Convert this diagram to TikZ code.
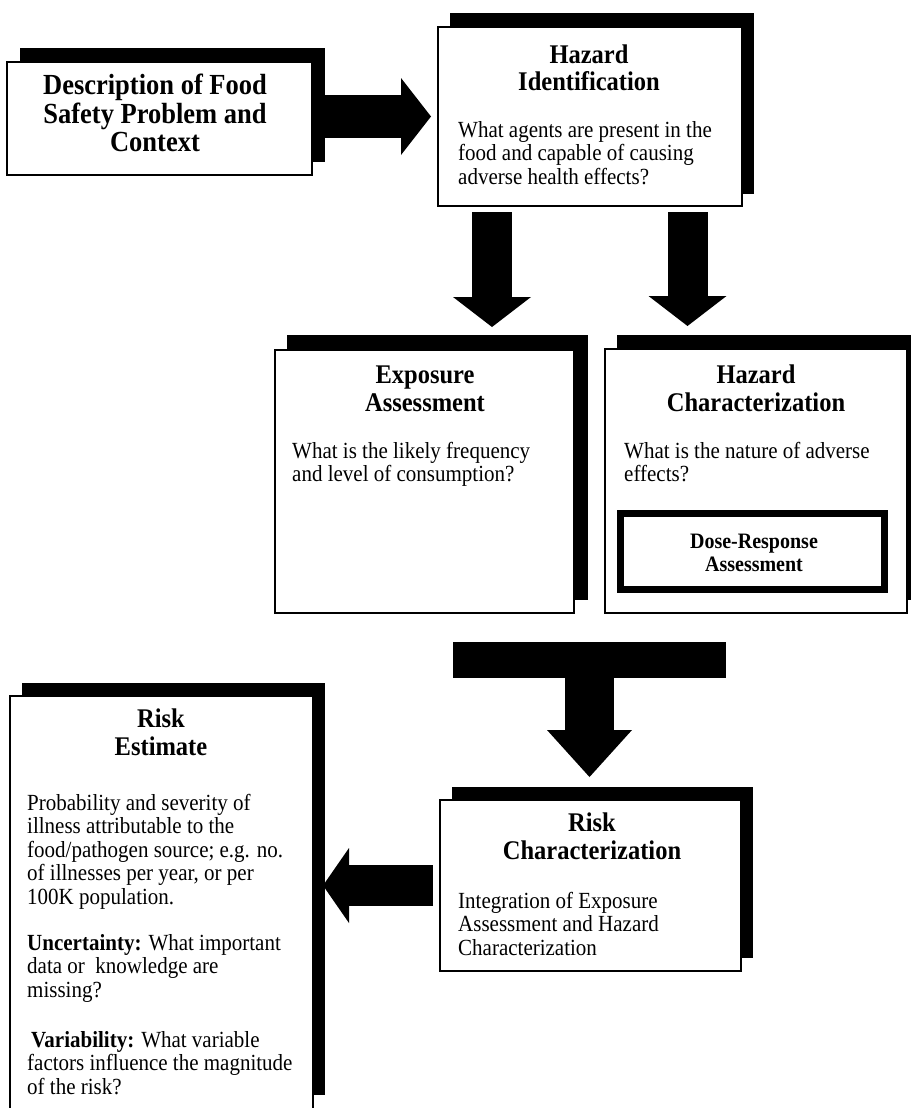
\documentclass[tikz,border=0pt]{standalone}
\usepackage{graphicx}
\usepackage{fontspec}
\setmainfont{Liberation Serif}
\usetikzlibrary{arrows.meta}
\newcommand\vtxt[2]{\scalebox{1}[1.1]{\begin{tabular}{@{}#1@{}}#2\end{tabular}}}
\begin{document}
\begin{tikzpicture}[x=1pt,y=-1pt,
  shadowrect/.style={fill=black, draw=none, inner sep=0pt, outer sep=0pt, anchor=north west},
  whiterect/.style={fill=white, draw=black, line width=1.3pt, inner sep=0pt, outer sep=0pt, anchor=north west},
  title/.style={inner sep=0pt, anchor=north, font=\bfseries\fontsize{24.5}{25}\selectfont},
  body/.style={inner sep=0pt, anchor=north west, font=\fontsize{21}{21.36}\selectfont},
  blockarrow/.style n args={3}{line width=#1, -{Triangle[length=#2, width=#3, line width=0pt]}}
]
\useasboundingbox (0,0) rectangle (910,1108);

% Description box
\node[shadowrect, minimum width=305pt, minimum height=114pt] (descsh) at (20,48) {};
\node[whiterect, minimum width=305pt, minimum height=113pt] (desc) at (7,62) {};
\node[title, font=\bfseries\fontsize{26.5}{26}\selectfont] (desctxt) at (155,73.5) {\vtxt{c}{Description of Food\\Safety Problem and\\Context}};

% Hazard Identification
\node[shadowrect, minimum width=304pt, minimum height=181pt] (hazidsh) at (450,13) {};
\node[whiterect, minimum width=304pt, minimum height=179pt] (hazid) at (438,27) {};
\node[title] (hazidtitle) at (589,44) {\vtxt{c}{Hazard\\Identification}};
\node[body] (hazidbody) at (458,120.5) {\vtxt{l}{What agents are present in the\\food and capable of causing\\adverse health effects?}};

% Exposure Assessment
\node[shadowrect, minimum width=301pt, minimum height=265pt] (exposh) at (287,335) {};
\node[whiterect, minimum width=299pt, minimum height=263pt] (expo) at (275,350) {};
\node[title] (expotitle) at (425,364.5) {\vtxt{c}{Exposure\\Assessment}};
\node[body] (expobody) at (292,441.5) {\vtxt{l}{What is the likely frequency\\and level of consumption?}};

% Hazard Characterization
\node[shadowrect, minimum width=295pt, minimum height=265pt] (hazcharsh) at (617,335) {};
\node[whiterect, minimum width=302pt, minimum height=264pt] (hazchar) at (605,349) {};
\node[title] (hazchartitle) at (756,364.5) {\vtxt{c}{Hazard\\Characterization}};
\node[body] (hazcharbody) at (624,441.5) {\vtxt{l}{What is the nature of adverse\\effects?}};
\node[draw=black, fill=white, line width=7pt, inner sep=0pt, minimum width=264pt, minimum height=76pt] (dose) at (752.5,551.5) {};
\node[inner sep=0pt, anchor=north, font=\bfseries\fontsize{20}{20.9}\selectfont] (dosetxt) at (754,532) {\vtxt{c}{Dose-Response\\Assessment}};

% Merge bar
\node[shadowrect, minimum width=273pt, minimum height=36pt] (merge) at (453,642) {};

% Risk Estimate
\node[shadowrect, minimum width=303pt, minimum height=412pt] (riskestsh) at (22,683) {};
\node[whiterect, minimum width=303pt, minimum height=430pt] (riskest) at (10,696) {};
\node[title] (riskesttitle) at (161,708.5) {\vtxt{c}{Risk\\Estimate}};
\node[body] (riskestbody1) at (27,793.5) {\vtxt{l}{Probability and severity of\\illness attributable to the\\food/pathogen source; e.g. no.\\of illnesses per year, or per\\100K population.}};
\node[body] (riskestbody2) at (27,933.5) {\vtxt{l}{\textbf{Uncertainty:} What important\\data or~ knowledge are\\missing?}};
\node[body] (riskestbody3) at (27,1030.5) {\vtxt{l}{\hspace{4pt}\textbf{Variability:} What variable\\factors influence the magnitude\\of the risk?}};

% Risk Characterization
\node[shadowrect, minimum width=301pt, minimum height=171pt] (riskcharsh) at (452,787) {};
\node[whiterect, minimum width=301pt, minimum height=171pt] (riskchar) at (440,800) {};
\node[title] (riskchartitle) at (592,812.5) {\vtxt{c}{Risk\\Characterization}};
\node[body] (riskcharbody) at (458,891.5) {\vtxt{l}{Integration of Exposure\\Assessment and Hazard\\Characterization}};

% Connector end points
\coordinate (r1s) at (descsh.east |- 0,116.5);
\coordinate (r1e) at (431,116.5);
\coordinate (d1s) at (492,212);
\coordinate (d1e) at (492,327);
\coordinate (d2s) at (687.5,212);
\coordinate (d2e) at (687.5,326);
\coordinate (m1e) at (589.5,777);
\coordinate (l1s) at (riskchar.west |- 0,885.5);
\coordinate (l1e) at (323,885.5);

% Block arrows
\draw[blockarrow={43pt}{30pt}{77pt}] (r1s) -- (r1e);
\draw[blockarrow={40pt}{30pt}{78pt}] (d1s) -- (d1e);
\draw[blockarrow={40pt}{30pt}{78pt}] (d2s) -- (d2e);
\draw[blockarrow={49pt}{47pt}{85pt}] (merge.south) -- (m1e);
\draw[blockarrow={41pt}{26pt}{75pt}] ([xshift=-7pt]l1s) -- (l1e);
\end{tikzpicture}
\end{document}
